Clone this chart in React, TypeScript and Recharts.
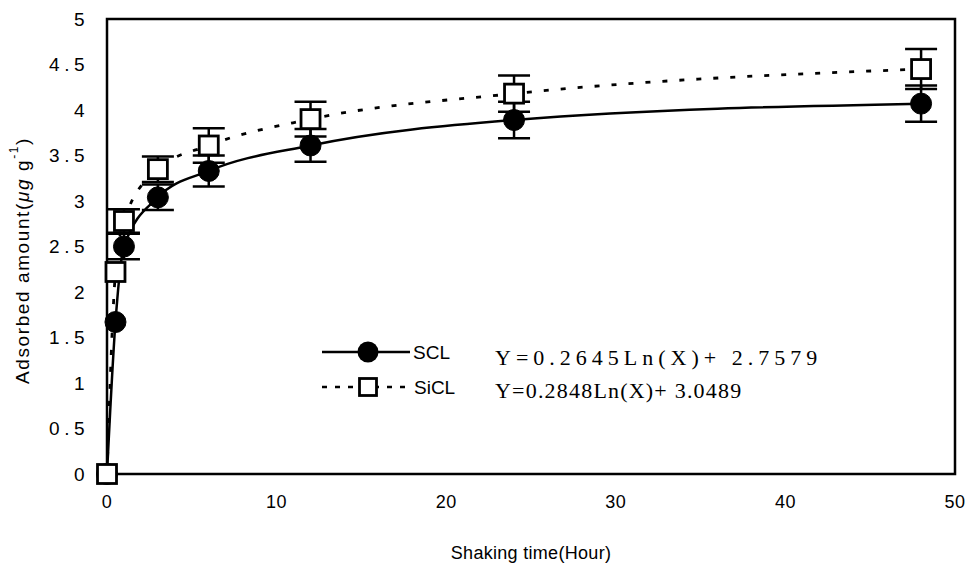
import React from "react";
import { LineChart, Line, XAxis, YAxis, ErrorBar, ReferenceArea } from "recharts";

const hours = [0, 0.5, 1, 3, 6, 12, 24, 48];
const sclValues = [0, 1.67, 2.5, 3.04, 3.33, 3.61, 3.89, 4.07];
const siclValues = [0, 2.22, 2.78, 3.35, 3.61, 3.9, 4.18, 4.45];
const sclErrors = [0, 0, 0.14, 0.14, 0.17, 0.18, 0.2, 0.2];
const siclErrors = [0, 0, 0.13, 0.14, 0.19, 0.19, 0.2, 0.22];
const xTicks = [0, 10, 20, 30, 40, 50];
const yTicks = [0, 0.5, 1, 1.5, 2, 2.5, 3, 3.5, 4, 4.5, 5];
const seriesNames = ["SCL", "SiCL"];
const equations = ["Y=0.2645Ln(X)+ 2.7579", "Y=0.2848Ln(X)+ 3.0489"];

const data = hours.map((h, i) => ({
  hour: h,
  scl: sclValues[i],
  sicl: siclValues[i],
  sclErr: sclErrors[i],
  siclErr: siclErrors[i],
}));

const SANS = "'Liberation Sans', Arial, sans-serif";
const SERIF = "'Liberation Serif', 'DejaVu Serif', serif";

const CircleDot = (props: any) => {
  const { cx, cy } = props;
  if (cx == null || cy == null) return null;
  return <circle cx={cx} cy={cy} r={10.5} fill="#000" stroke="#000" strokeWidth={1} />;
};

const SquareDot = (props: any) => {
  const { cx, cy } = props;
  if (cx == null || cy == null) return null;
  return <rect x={cx - 9.5} y={cy - 9.5} width={19} height={19} fill="#fff" stroke="#000" strokeWidth={2.8} />;
};

const LegendOverlay = () => (
  <svg
    width={560}
    height={100}
    style={{ position: "absolute", left: 300, top: 320, display: "block", overflow: "visible", pointerEvents: "none" }}
  >
    <line x1={22} y1={32} x2={110} y2={32} stroke="#000" strokeWidth={2.5} />
    <circle cx={68} cy={32} r={10.5} fill="#000" />
    <text x={113} y={32} dominantBaseline="central" fontFamily={SANS} fontSize={19} fill="#000">
      {seriesNames[0]}
    </text>
    <line x1={22} y1={67} x2={110} y2={67} stroke="#000" strokeWidth={2.5} strokeDasharray="5 8" />
    <rect x={59.5} y={58.5} width={17} height={17} fill="#fff" stroke="#000" strokeWidth={2.8} />
    <text x={114} y={67} dominantBaseline="central" fontFamily={SANS} fontSize={19} fill="#000">
      {seriesNames[1]}
    </text>
    <text x={195} y={37} dominantBaseline="central" fontFamily={SERIF} fontSize={22} letterSpacing={5} fill="#000">
      {equations[0]}
    </text>
    <text x={195} y={70} dominantBaseline="central" fontFamily={SERIF} fontSize={22} letterSpacing={1.2} fill="#000">
      {equations[1]}
    </text>
  </svg>
);

const YLabel = (props: any) => {
  const vb = props.viewBox || { x: 0, y: 0, width: 0, height: 0 };
  const cx = vb.x + 22;
  const cy = vb.y + vb.height / 2 + 14;
  return (
    <text
      x={cx}
      y={cy}
      transform={`rotate(-90 ${cx} ${cy})`}
      textAnchor="middle"
      dominantBaseline="central"
      fontFamily={SANS}
      fontSize={19}
      letterSpacing={1.6}
      fill="#000"
    >
      <tspan>Adsorbed amount(</tspan>
      <tspan fontStyle="italic">μg</tspan>
      <tspan> g</tspan>
      <tspan dy={-8} fontSize={12}>-1</tspan>
      <tspan dy={8}>)</tspan>
    </text>
  );
};

const XLabel = (props: any) => {
  const vb = props.viewBox || { x: 0, y: 0, width: 0, height: 0 };
  return (
    <text
      x={vb.x + vb.width / 2}
      y={vb.y + 79}
      textAnchor="middle"
      dominantBaseline="central"
      fontFamily={SANS}
      fontSize={18}
      letterSpacing={0.3}
      fill="#000"
    >
      Shaking time(Hour)
    </text>
  );
};

export default function App() {
  return (
    <div style={{ position: "absolute", left: 0, top: 0, width: 967, height: 568, background: "#fff" }}>
      <LineChart
        width={967}
        height={568}
        data={data}
        margin={{ top: 19, right: 12, bottom: 0, left: 0 }}
      >
        <XAxis
          type="number"
          dataKey="hour"
          domain={[0, 50]}
          ticks={xTicks}
          height={94}
          axisLine={false}
          tickLine={false}
          tickSize={0}
          tickMargin={21}
          tick={{ fill: "#000", fontSize: 18, fontFamily: SANS, letterSpacing: 0.5 }}
          label={{ content: XLabel } as any}
        />
        <YAxis
          type="number"
          domain={[0, 5]}
          ticks={yTicks}
          width={107}
          axisLine={false}
          tickLine={false}
          tickSize={0}
          tickMargin={18}
          tick={{ fill: "#000", fontSize: 19, fontFamily: SANS, letterSpacing: 4.5 }}
          label={{ content: YLabel } as any}
        />
        <ReferenceArea
          x1={0}
          x2={50}
          y1={0}
          y2={5}
          fill="none"
          fillOpacity={0}
          stroke="#000"
          strokeWidth={2.5}
          ifOverflow="visible"
        />
        <Line
          dataKey="scl"
          name={seriesNames[0]}
          type="monotone"
          stroke="#000"
          strokeWidth={2.5}
          dot={CircleDot}
          activeDot={false}
          isAnimationActive={false}
        >
          <ErrorBar dataKey="sclErr" direction="y" width={16} stroke="#000" strokeWidth={2.5} />
        </Line>
        <Line
          dataKey="sicl"
          name={seriesNames[1]}
          type="monotone"
          stroke="#000"
          strokeWidth={2.8}
          strokeDasharray="5 12"
          dot={SquareDot}
          activeDot={false}
          isAnimationActive={false}
        >
          <ErrorBar dataKey="siclErr" direction="y" width={16} stroke="#000" strokeWidth={2.5} />
        </Line>
      </LineChart>
      <LegendOverlay />
    </div>
  );
}
